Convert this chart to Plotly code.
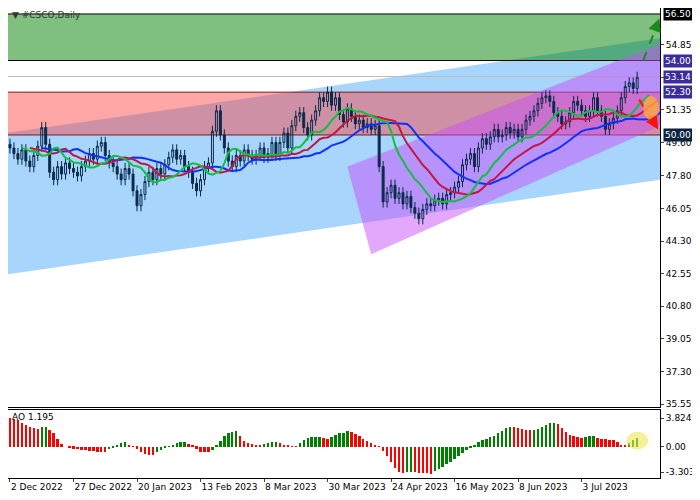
import pandas as pd
import plotly.graph_objects as go
from plotly.subplots import make_subplots

# daily closes (bar index 0 = 2 Dec 2022)
closes = [49.3, 49.0, 48.7, 49.2, 48.6, 48.3, 48.9, 49.4, 50.4, 49.5, 48.0,
          47.6, 48.3, 47.9, 48.5, 48.2,
          48.0, 47.8, 48.3, 48.6, 49.0, 48.7, 49.4, 49.6, 48.9,
          48.5, 48.3, 47.9, 47.6, 48.2, 47.9, 47.0,
          46.2,
          46.8, 47.5, 48.0, 47.6, 48.2, 47.9, 48.4, 48.8,
          49.2, 48.7, 48.9, 48.3, 48.0,
          47.4, 47.0, 47.6, 48.3, 48.5,
          50.2, 51.3, 50.0,
          49.3, 48.6, 48.3,
          48.9, 48.6, 49.2, 48.9, 48.7, 48.9, 49.3, 48.8,
          49.0, 49.6, 48.9, 49.6, 50.1, 49.3, 50.5, 51.0,
          51.2, 50.4, 50.0, 50.8, 51.3, 52.0, 51.8, 52.3,
          51.6, 52.0, 51.1, 50.7, 51.4, 51.0, 50.6,
          50.8, 50.4, 50.6, 50.3, 50.5,
          48.3,
          46.4, 46.9, 47.3, 46.6, 46.9, 46.3, 46.7,
          46.1, 45.8, 45.5, 46.0, 46.3, 46.2, 46.5,
          46.6, 46.3, 46.8, 46.9, 47.2,
          47.5, 48.4, 48.7, 49.0, 48.3, 49.3,
          49.8, 49.5, 49.9, 50.3, 49.9, 50.0, 50.4,
          50.1, 50.3, 49.9, 50.3, 50.8,
          51.0, 51.3, 51.7, 52.0, 52.1,
          51.8, 51.2, 51.0, 50.6, 50.7,
          51.2, 51.8, 51.6, 51.3, 51.0,
          51.3, 52.0, 51.3, 51.0, 50.3, 50.6,
          50.9, 51.3, 52.0, 52.6,
          52.8, 52.5, 53.1]

# Awesome Oscillator values per bar
ao = [3.8, 3.7, 3.5, 3.2, 2.9, 2.6, 2.5, 2.4, 2.6, 2.7, 2.3, 1.8, 1.0, 0.4,
      0.0, -0.1, -0.2, -0.3, -0.4, -0.4, -0.5, -0.5, -0.6, -0.7, -0.7,
      -0.3, -0.1, 0.2, 0.5, 0.6, 0.3, 0.1,
      -0.2, -0.6, -0.9, -1.1, -1.1,
      -0.7, -0.4, -0.1, 0.1, 0.3, 0.5, 0.6, 0.7,
      0.4, 0.2, -0.2, -0.6, -0.7, -0.7,
      -0.4, 0.2, 0.8, 1.5, 1.8, 2.0, 2.1,
      1.4, 0.8, 0.5, 0.4, 0.3, 0.2,
      0.4, 0.5, 0.6, 0.7,
      0.5, 0.3, 0.2, 0.1, 0.1,
      0.5, 0.9, 1.2, 1.3, 1.35, 1.36,
      1.2, 1.1,
      1.3, 1.6, 1.8, 1.9, 2.1,
      2.0, 1.7, 1.4, 1.1, 0.8, 0.5, 0.2, 0.05,
      -0.5, -1.2, -2.0, -2.8, -3.3, -3.4,
      -3.35, -3.3,
      -3.35, -3.4, -3.45, -3.45, -3.5,
      -3.2, -2.9, -2.6, -2.3, -2.0, -1.6, -1.2, -0.8, -0.4, -0.1,
      0.2, 0.6, 0.9, 1.1, 1.3, 1.5, 1.8, 2.1, 2.5, 2.7,
      2.6, 2.5, 2.4, 2.3, 2.2,
      2.3, 2.4, 2.6, 2.9, 3.1, 3.2,
      3.0, 2.5, 2.0, 1.6, 1.4, 1.3, 1.2,
      1.3, 1.4, 1.45,
      1.2, 1.1, 1.0, 0.95, 0.9, 0.6, 0.3,
      0.2, 0.5, 0.9, 1.195]

tick_idx = [0, 16, 32, 48, 64, 80, 96, 112, 128, 144]
tick_txt = ['2 Dec 2022', '27 Dec 2022', '20 Jan 2023', '13 Feb 2023', '8 Mar 2023',
            '30 Mar 2023', '24 Apr 2023', '16 May 2023', '8 Jun 2023', '3 Jul 2023']
price_ticks = [54.85, 53.10, 51.35, 49.60, 47.80, 46.05, 44.30, 42.55, 40.80, 39.05, 37.30, 35.55]
levels = {'56.50': ('#000000', 56.50), '54.00': ('#3b2c9c', 54.00), '53.14': ('#3b2c9c', 53.14),
          '52.30': ('#3b2c9c', 52.30), '50.00': ('#0b2540', 50.00)}

n = len(closes)
ao = ao[:n]
x = list(range(n))
opens = [closes[0] + 0.2] + closes[:-1]
highs = [max(o, c) + 0.3 for o, c in zip(opens, closes)]
lows = [min(o, c) - 0.3 for o, c in zip(opens, closes)]

# Alligator lines (smoothed MAs, shifted forward)
s = pd.Series(closes)
jaw = s.ewm(alpha=1 / 13, adjust=False).mean()
teeth = s.ewm(alpha=1 / 8, adjust=False).mean()
lips = s.ewm(alpha=1 / 5, adjust=False).mean()

fig = make_subplots(rows=2, cols=1, shared_xaxes=True, row_heights=[399, 68], vertical_spacing=0.0064)

# shapes behind candles
XL, XR = -1, 170
def yline(x0, y0, x1, y1, xv):
    return y0 + (y1 - y0) * (xv - x0) / (x1 - x0)

fig.add_shape(type='path', xref='x', yref='y',
              path=f'M {XL},50.1 L {XR},{yline(-1,50.1,164,55.2,XR)} L {XR},{yline(-1,42.5,164,47.6,XR)} L {XL},42.5 Z',
              fillcolor='rgba(120,190,250,0.65)', line_width=0, layer='below')
fig.add_shape(type='rect', xref='x', yref='y', x0=XL, x1=XR, y0=54.0, y1=56.5,
              fillcolor='rgba(0,128,0,0.5)', line=dict(color='black', width=1), layer='below')
fig.add_shape(type='rect', xref='x', yref='y', x0=XL, x1=XR, y0=50.0, y1=52.3,
              fillcolor='rgba(255,60,60,0.45)', line=dict(color='#7a1a1a', width=1), layer='below')
fig.add_shape(type='line', xref='x', yref='y', x0=XL, x1=XR, y0=53.14, y1=53.14,
              line=dict(color='#bbbbbb', width=1), layer='below')
fig.add_shape(type='path', xref='x', yref='y',
              path='M 85,48.3 L 170,55.4 L 165,50.6 L 91,43.6 Z',
              fillcolor='rgba(200,80,250,0.5)', line_width=0, layer='below')

fig.add_trace(go.Candlestick(x=x, open=opens, high=highs, low=lows, close=closes,
                             increasing=dict(line=dict(color='#0b2a4a', width=1), fillcolor='rgba(0,0,0,0)'),
                             decreasing=dict(line=dict(color='#0b2a4a', width=1), fillcolor='#0b2a4a'),
                             whiskerwidth=0, showlegend=False), row=1, col=1)
fig.add_trace(go.Scatter(x=[i + 8 for i in x], y=jaw, mode='lines', line=dict(color='#1030ff', width=2), showlegend=False), row=1, col=1)
fig.add_trace(go.Scatter(x=[i + 5 for i in x], y=teeth, mode='lines', line=dict(color='#c01840', width=2), showlegend=False), row=1, col=1)
fig.add_trace(go.Scatter(x=[i + 3 for i in x], y=lips, mode='lines', line=dict(color='#10c040', width=2), showlegend=False), row=1, col=1)

# forecast arrows (dashed shaft + head) and marker
fig.add_shape(type='line', xref='x', yref='y', x0=159.5, y0=54.0, x1=163.2, y1=56.0,
              line=dict(color='#1a8a1a', width=2, dash='dash'))
fig.add_annotation(x=163.6, y=56.25, ax=162.6, ay=55.7, xref='x', yref='y', axref='x', ayref='y',
                   showarrow=True, arrowhead=2, arrowsize=1.3, arrowwidth=2, arrowcolor='#1a8a1a', text='')
fig.add_shape(type='line', xref='x', yref='y', x0=158.5, y0=51.9, x1=162.3, y1=50.6,
              line=dict(color='#ff1010', width=2, dash='dash'))
fig.add_annotation(x=163.3, y=50.3, ax=162.3, ay=50.65, xref='x', yref='y', axref='x', ayref='y',
                   showarrow=True, arrowhead=2, arrowsize=1.3, arrowwidth=2, arrowcolor='#ff1010', text='')
fig.add_shape(type='circle', xref='x', yref='y', x0=159.5, x1=163.5, y0=50.8, y1=52.1,
              fillcolor='rgba(255,170,60,0.8)', line_width=0)

ao_col = ['#008000' if i > 0 and ao[i] > ao[i - 1] else '#ff0000' for i in range(len(ao))]
ao_col[0] = '#ff0000'
fig.add_trace(go.Bar(x=x, y=ao, marker=dict(color=ao_col, line_width=0), width=0.6, showlegend=False), row=2, col=1)
fig.add_shape(type='circle', xref='x2', yref='y2', x0=155.3, x1=160.8, y0=-0.3, y1=2.0,
              fillcolor='rgba(240,230,80,0.6)', line_width=0)

for txt, (col, v) in levels.items():
    fig.add_annotation(x=1.0, y=v, xref='paper', yref='y', text=txt, showarrow=False,
                       xanchor='left', xshift=3, bgcolor=col, font=dict(color='white', size=9),
                       borderpad=1)

fig.add_annotation(x=0, y=1, xref='paper', yref='paper', text='▼ #CSCO,Daily', showarrow=False,
                   xanchor='left', yanchor='top', xshift=2, font=dict(size=9, color='#333'))
fig.add_annotation(x=0, y=0.145, xref='paper', yref='paper', text='AO 1.195', showarrow=False,
                   xanchor='left', yanchor='top', xshift=2, font=dict(size=9, color='black'))

axis_style = dict(showline=True, linecolor='black', mirror=True, showgrid=False, zeroline=False,
                  ticks='outside', ticklen=3, tickfont=dict(size=9, color='black'), automargin=False)
fig.update_xaxes(range=[-0.5, 163.75], rangeslider_visible=False, tickangle=0, **axis_style)
fig.update_xaxes(tickvals=tick_idx, ticktext=tick_txt, ticklabelposition='outside right', row=2, col=1)
fig.update_xaxes(showticklabels=False, ticks='', row=1, col=1)
fig.update_yaxes(side='right', **axis_style)
fig.update_yaxes(range=[35.39, 56.82], tickvals=price_ticks, tickformat='.2f', row=1, col=1)
fig.update_yaxes(range=[-4.09, 4.88], tickvals=[3.824, 0, -3.303], ticktext=['3.824', '0.00', '-3.303'], row=2, col=1)

fig.update_layout(width=692, height=492, margin=dict(l=0, r=40, t=0, b=22),
                  plot_bgcolor='white', paper_bgcolor='white', bargap=0,
                  font=dict(family='DejaVu Sans', size=9))

fig.write_html("out.html")
